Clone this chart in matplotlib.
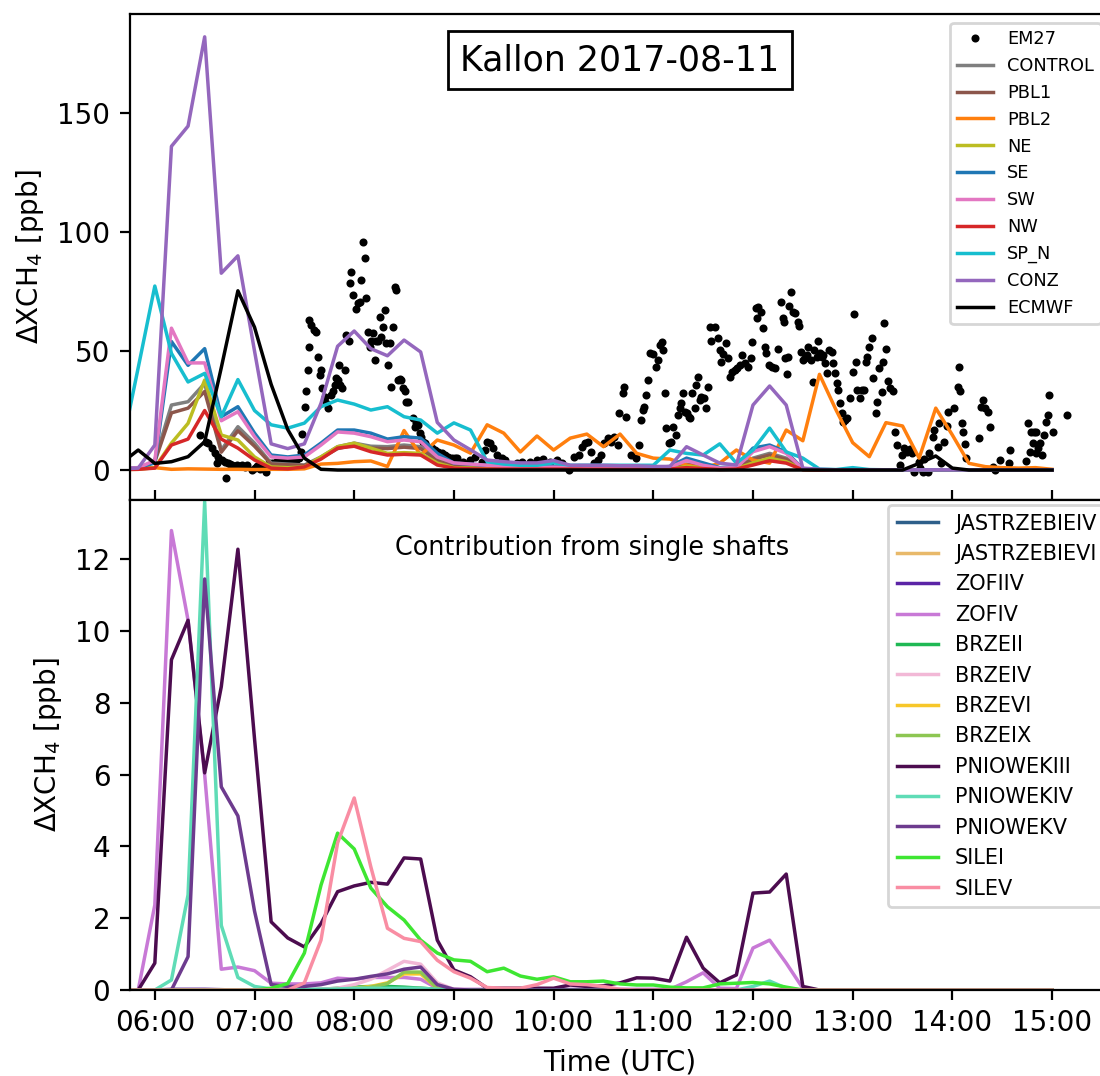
import numpy as np
import pandas as pd
import matplotlib.pyplot as plt
import matplotlib.dates as mdates

# model output every 10 min, 05:40 - 15:00 UTC
day = pd.Timestamp('2017-08-11')
model_time = pd.date_range('2017-08-11 05:40', '2017-08-11 15:00', freq='10min')

# EM27 observations (hour of day, ppb)
em27_hour = [
    6.45, 6.51, 6.53, 6.57, 6.60, 6.62, 6.63, 6.67, 6.70, 6.71, 6.73, 6.75, 6.77, 6.80, 6.82,
    6.85, 6.87, 6.90, 6.92, 6.97, 7.00, 7.02, 7.05, 7.07, 7.10, 7.12, 7.15, 7.18, 7.22, 7.25,
    7.28, 7.30, 7.35, 7.38, 7.40, 7.42, 7.45, 7.47, 7.48,
    7.51, 7.52, 7.54, 7.55, 7.55, 7.57, 7.60, 7.62, 7.64, 7.66, 7.67, 7.68, 7.71, 7.72, 7.74,
    7.77, 7.79, 7.81, 7.82, 7.84, 7.85, 7.86, 7.88, 7.91, 7.92, 7.95, 7.96, 7.97, 7.99, 8.02,
    8.04, 8.06, 8.07, 8.09, 8.11, 8.12, 8.14, 8.16, 8.17, 8.19, 8.21, 8.22, 8.24, 8.26, 8.27,
    8.29, 8.31, 8.32, 8.34, 8.36, 8.37, 8.39, 8.41, 8.42, 8.44, 8.46, 8.47, 8.49, 8.51, 8.52,
    8.54, 8.59, 8.61, 8.62, 8.64, 8.66, 8.67, 8.69, 8.71, 8.74, 8.78, 8.81, 8.84, 8.88, 8.91,
    8.94, 8.98, 9.01,
    9.03, 9.09, 9.16, 9.21, 9.28, 9.31, 9.33, 9.36, 9.39, 9.43, 9.48, 9.51, 9.63, 9.68, 9.76,
    9.83, 9.89, 9.96, 10.03, 10.08, 10.15, 10.20, 10.25, 10.28, 10.31, 10.35, 10.38, 10.41,
    10.45, 10.48, 10.51, 10.55, 10.58, 10.61, 10.65, 10.66, 10.70, 10.71, 10.73, 10.78, 10.83,
    10.86, 10.88, 10.90, 10.91, 10.93, 10.95, 10.97, 11.00, 11.03, 11.05, 11.07, 11.09, 11.10,
    11.12, 11.13, 11.16, 11.18, 11.20, 11.23, 11.25, 11.27, 11.28, 11.30, 11.32, 11.34, 11.36,
    11.37, 11.39, 11.42, 11.43, 11.45, 11.47, 11.48, 11.51, 11.53, 11.55, 11.57, 11.58, 11.62,
    11.65, 11.67, 11.68, 11.70, 11.73, 11.75, 11.77, 11.79, 11.82, 11.84, 11.87, 11.89, 11.92,
    11.95, 11.98, 11.99, 12.03, 12.04, 12.05, 12.08, 12.10, 12.12, 12.13, 12.16, 12.19, 12.22,
    12.25, 12.28, 12.30, 12.31, 12.32, 12.34, 12.35, 12.36, 12.38, 12.40, 12.42, 12.45, 12.46,
    12.48, 12.50, 12.52, 12.54, 12.55, 12.58, 12.60, 12.61, 12.64, 12.65, 12.67, 12.69, 12.70,
    12.72, 12.74, 12.76, 12.79, 12.80, 12.82, 12.84, 12.85, 12.87, 12.89, 12.90, 12.92, 12.94,
    12.97, 13.00, 13.01, 13.03, 13.04, 13.07, 13.09, 13.11, 13.13, 13.14, 13.16, 13.19, 13.20,
    13.23, 13.24, 13.26, 13.29, 13.30, 13.31, 13.33, 13.35, 13.37, 13.40,
    13.42, 13.44, 13.47, 13.49, 13.51, 13.54, 13.57, 13.59, 13.62, 13.67, 13.68, 13.71, 13.72,
    13.76, 13.77, 13.81, 13.82, 13.86, 13.87, 13.89, 13.92, 13.95, 13.96, 14.02, 14.06, 14.07,
    14.08, 14.10, 14.11, 14.13, 14.14, 14.27, 14.29, 14.31, 14.33, 14.36, 14.38, 14.41, 14.43,
    14.48, 14.57, 14.58, 14.74, 14.76, 14.78, 14.79, 14.81, 14.82, 14.84, 14.84, 14.86, 14.88,
    14.90, 14.92, 14.94, 14.96, 14.97, 15.01, 15.15,
]
em27_val = [
    14.7, 11.9, 11.3, 9.2, 7.1, 2.9, 5.5, 4.2, 3.4, -3.4, 2.9, 2.5, 2.1, 1.8, 2.1,
    1.5, 2.1, 1.2, 2.0, 0.0, 1.0, 1.5, 0.5, 1.0, 1.2, -0.7, 2.9, 3.0, 3.5, 3.2,
    3.5, 3.8, 3.9, 3.5, 4.5, 4.2, 5.0, 7.7, 15.1,
    26.6, 33, 42, 63, 51.8, 61, 58.8, 58, 47.6, 40, 42, 34.4, 30.8, 28, 26,
    31.5, 33, 35.7, 38.6, 37.8, 44, 35.7, 34.4, 42, 56.7, 54, 78.5, 83.3, 73.5, 67.6,
    70, 70.7, 79.8, 96, 89, 72.3, 58, 51.8, 54, 57.7, 46.2, 54.3, 54, 64.4, 56,
    60.2, 67.2, 53.5, 44, 53.2, 35, 60.2, 77, 75.6, 37.8, 38.1, 37.8, 34.3, 33, 28.7,
    28.7, 21.7, 18.2, 19.9, 18.9, 15.4, 14, 11.9, 11.2, 9.8, 9.1, 8.4, 7.7, 7, 6.3,
    5.6, 4.9, 4.9,
    4.9, 3.5, 4.2, 5.6, 3.5, 8.4, 11.9, 11.2, 9.1, 6.3, 4.9, 4.2, 2.8, 3.5, 3.5,
    4.2, 4.5, 3.5, 4.2, 2.8, 0.0, 5.6, 6.3, 9.8, 11.2, 11.9, 7.7, 2.8,
    4.2, 6.3, 11.2, 13.3, 11.9, 14, 10.5, 23.8, 32.2, 35, 22.4, 6.3, 4.9,
    10.5, 21, 25.2, 26.6, 31.5, 37.8, 49, 48.7, 43.4, 46.2, 52.5, 53.9, 50.4,
    32.2, 17.5, 11.2, 11.9, 18.2, 14.7, 23.1, 25.9, 28, 32.2, 24.5, 23.8, 22.4,
    21.7, 32.2, 25.9, 35.7, 39.2, 29.4, 30.8, 30.1, 25.9, 35, 60.2, 54.3, 60.2,
    55.3, 50.4, 45.5, 48.7, 53.2, 46.9, 39.2, 41.3, 42, 42.7, 44.1, 48.3, 44.8,
    43.4, 46.9, 53.9, 67.9, 63.7, 68.6, 66.5, 59.5, 51.8, 49, 44.1, 43.4, 42.7,
    50.7, 70.7, 63.7, 62.3, 46.9, 40.3, 47.6, 69, 74.9, 66.5, 66.1, 62.3, 60.5,
    49.7, 46.2, 46.9, 48.3, 51.8, 46.2, 37.1, 50.4, 47.6, 54.2, 49, 47.6, 48.3,
    44.8, 40.6, 50.4, 49.7, 44.8, 40.6, 36.4, 33.6, 28, 23.8, 20.3, 21, 21.7,
    30.1, 41.3, 65.5, 45.5, 33.6, 30.1, 33.6, 33.6, 45.5, 47.6, 51.8, 55.3, 38.5,
    23.8, 28.7, 42.7, 32.9, 45.5, 61.9, 50.7, 37.5, 34.3, 33.3,
    16.1, 10.5, 2.1, 6.3, 9.1, 7.7, 8.7, 7, -0.7, 3.5, 0.7, -0.7, 4.5,
    -0.7, 7, 14, 16.8, 9.8, 19.6, 2.8, 11.9, 18.5, 24.5, 25.9, 35, 43.1,
    33.3, 19.9, 16.1, 10.9, 4.9, 13.3, 26.6, 29.4, 25.9, 24.5, 18.2, 1.4, 0.0,
    4.2, 2.8, 8.4, 3.9, 19.9, 7.7, 16.1, 11.5, 16.1, 16.1, 7.3, 9.1, 11.5,
    6.3, 14.7, 20.3, 23.1, 31.5, 16.1, 23.1,
]

# WRF tracer runs (ppb)
control = [0.3, 0.5, 4, 27.3, 28.7, 36.4, 8.4, 18.2, 11.3, 2.9,
           2.5, 2.1, 5.5, 9.8, 11.3, 10, 9.8, 10.5, 9.8, 4.2,
           2, 1.5, 1.2, 1, 1, 1, 1, 1, 0.8, 0.8,
           0.8, 0.8, 0.8, 1, 2.5, 1.5, 0.5, 1, 5, 7,
           5, 0.3, 0, 0, 0, 0, 0, 0, 0, 0,
           0, 0, 0, 0, 0, 0, 0]
pbl1 = [0.3, 0.5, 3.5, 24, 26, 33, 7.5, 16.5, 10, 2.5,
        2.2, 1.9, 5, 9, 10.5, 9.2, 9, 9.6, 9, 3.8,
        1.8, 1.3, 1.1, 0.9, 0.9, 0.9, 0.9, 0.9, 0.7, 0.7,
        0.7, 0.7, 0.7, 0.9, 2.2, 1.3, 0.4, 0.9, 4.5, 6.3,
        4.5, 0.3, 0, 0, 0, 0, 0, 0, 0, 0,
        0, 0, 0, 0, 0, 0, 0]
pbl2 = [0.5, 0.8, 1, 0.3, 0.5, 0.4, 0.3, 0.3, 0.2, 0.3,
        0.3, 0.5, 2.5, 2.8, 3.5, 3.8, 1.5, 16.6, 6.3, 12.6,
        10.5, 7.1, 19, 15.5, 7.6, 14.3, 8.4, 13.4, 15.1, 9.8,
        15.1, 7, 5, 4.6, 2.1, 0.8, 2.9, 8.4, 4.2, 2.9,
        16.8, 12.3, 40.2, 25.2, 11.5, 5.6, 19.9, 18.5, 5, 26,
        14.7, 2.8, 1.4, 1, 0.8, 1, 0.3]
ne = [0.2, 0.3, 1, 11.3, 19.6, 37.8, 14.7, 12.6, 5.5, 1.3,
      1, 1.3, 5.5, 9.8, 11.3, 9.2, 7, 7.3, 7, 2.9,
      1, 0.8, 0.7, 0.6, 0.6, 0.6, 0.6, 0.6, 0.5, 0.5,
      0.5, 0.5, 0.5, 0.6, 1.5, 1, 0.3, 0.6, 3, 5,
      3.5, 0.2, 0, 0, 0, 0, 0, 0, 0, 0,
      0, 0, 0, 0, 0, 0, 0]
se = [0.5, 1, 3, 54, 44, 51, 22.4, 26.6, 15.5, 6.3,
      5.5, 6.3, 11.3, 16.8, 16.8, 15.5, 13, 14, 13.4, 7,
      2.9, 2.5, 2, 1.8, 1.5, 1.5, 1.5, 1.5, 1.2, 1.2,
      1.2, 1, 1, 1.5, 5, 3, 1, 1.5, 9.2, 10.5,
      7.6, 0.5, 0.1, 0, 0, 0, 0, 0, 0, 0,
      0, 0, 0, 0, 0, 0, 0]
sw = [0.5, 1, 4, 59.6, 45, 45, 20.7, 24.5, 14, 5.5,
      5, 5.5, 10.5, 16, 15.5, 14, 11.9, 12.6, 11.9, 5.5,
      3, 2.5, 2, 1.5, 1.2, 1.2, 1.2, 1.2, 1, 1,
      1, 1, 1, 1.2, 4, 2, 0.8, 1, 7.7, 9.8,
      7, 0.5, 0.1, 0, 0, 0, 0, 0, 0, 0,
      0, 0, 0, 0, 0, 0, 0]
nw = [0.2, 0.3, 0.8, 10.5, 13, 25, 13, 9.2, 4.2, 0.8,
      0.5, 1.3, 4.6, 9.2, 10, 7.7, 6.3, 6.6, 6.3, 2.1,
      0.8, 0.5, 0.4, 0.4, 0.4, 0.4, 0.4, 0.4, 0.3, 0.3,
      0.3, 0.3, 0.3, 0.4, 1, 0.6, 0.2, 0.4, 2.1, 3.9,
      2.9, 0.1, 0, 0, 0, 0, 0, 0, 0, 0,
      0, 0, 0, 0, 0, 0, 0]
sp_n = [9, 43, 77.3, 49, 37, 40.6, 22.4, 38, 25, 19,
        17.6, 19.7, 26.6, 29.4, 27.7, 25.2, 26.6, 22.4, 21, 15.5,
        19.8, 16.8, 3.5, 2.5, 2, 2, 3, 2, 2, 2,
        2, 2, 2, 8.4, 7, 6.3, 11, 2.9, 8.4, 17.6,
        7.6, 5, 0.4, 0.2, 1, 0.2, 0.1, 0.1, 0.1, 0.1,
        0.1, 0.1, 0.1, 0.1, 0.1, 0.1, 0.1]
conz = [0.5, 0.8, 10.5, 136, 144.5, 182, 82.7, 90, 50, 11,
        9, 11, 28, 52, 58.4, 51, 48, 54.6, 49.6, 20,
        12.6, 8.5, 4.2, 3.5, 3, 3, 4, 2, 2, 2,
        1.8, 1.8, 1.5, 1.5, 9.8, 6.3, 2.9, 2.1, 27.3, 35.3,
        27.3, 0.8, 0.3, 0.1, 0.1, 0.1, 0.1, 0.1, 0.1, 0.1,
        0.1, 0.1, 0.1, 0.1, 0.1, 0.1, 0.1]
ecmwf = [3, 8.4, 2.8, 3.5, 5.6, 11.9, 43, 75.3, 60, 36,
         17, 5, 0.3, 0, 0, 0, 0, 0, 0, 0,
         0, 0, 0, 0, 0, 0, 0, 0, 0, 0,
         0, 0, 0, 0, 0, 0, 0, 0, 0, 0,
         0, 0, 0, 0, 0, 0, 0, 0, 2.8, 5.9,
         0.8, 0, 0, 0, 0, 0, 0]

top_names = ['CONTROL', 'PBL1', 'PBL2', 'NE', 'SE', 'SW', 'NW', 'SP_N', 'CONZ', 'ECMWF']
top_series = [control, pbl1, pbl2, ne, se, sw, nw, sp_n, conz, ecmwf]
top_colors = ['tab:gray', 'tab:brown', 'tab:orange', 'tab:olive', 'tab:blue',
              'tab:pink', 'tab:red', 'tab:cyan', 'tab:purple', 'k']

# single shaft contributions (ppb)
jastrzebieiv = [0, 0, 0, 0, 0, 0, 0, 0, 0, 0,
                0, 0, 0, 0, 0.02, 0.03, 0.03, 0.03, 0.03, 0.01,
                0, 0, 0, 0, 0, 0, 0, 0, 0, 0,
                0, 0, 0, 0, 0, 0, 0, 0, 0, 0,
                0, 0, 0, 0, 0, 0, 0, 0, 0, 0,
                0, 0, 0, 0, 0, 0, 0]
jastrzebievi = [0, 0, 0, 0, 0, 0, 0, 0, 0, 0,
                0, 0, 0, 0, 0.02, 0.03, 0.04, 0.06, 0.05, 0.01,
                0, 0, 0, 0, 0, 0, 0, 0, 0, 0,
                0, 0, 0, 0, 0, 0, 0, 0, 0, 0,
                0, 0, 0, 0, 0, 0, 0, 0, 0, 0,
                0, 0, 0, 0, 0, 0, 0]
zofiiv = [0, 0, 0, 0.02, 0.02, 0.02, 0.01, 0, 0, 0,
          0, 0, 0, 0, 0.01, 0.01, 0.01, 0.01, 0.01, 0,
          0, 0, 0, 0, 0, 0, 0, 0, 0, 0,
          0, 0, 0, 0, 0, 0, 0, 0, 0, 0,
          0, 0, 0, 0, 0, 0, 0, 0, 0, 0,
          0, 0, 0, 0, 0, 0, 0]
zofiv = [0, 0, 2.37, 12.8, 10.3, 6.0, 0.58, 0.64, 0.54, 0.19,
         0.17, 0.17, 0.2, 0.33, 0.3, 0.35, 0.35, 0.35, 0.3, 0.05,
         0.02, 0.02, 0.02, 0.02, 0.02, 0.02, 0.02, 0.02, 0.02, 0.02,
         0.02, 0.02, 0.02, 0.02, 0.23, 0.48, 0.05, 0.04, 1.17, 1.39,
         0.75, 0.05, 0, 0, 0, 0, 0, 0, 0, 0,
         0, 0, 0, 0, 0, 0, 0]
brzeii = [0, 0, 0, 0, 0, 0, 0, 0, 0, 0,
          0, 0, 0.02, 0.05, 0.08, 0.1, 0.1, 0.08, 0.05, 0.02,
          0, 0, 0, 0, 0, 0, 0, 0, 0, 0,
          0, 0, 0, 0, 0, 0, 0, 0, 0, 0,
          0, 0, 0, 0, 0, 0, 0, 0, 0, 0,
          0, 0, 0, 0, 0, 0, 0]
brzeiv = [0, 0, 0, 0, 0, 0, 0, 0, 0, 0,
          0, 0, 0.02, 0.05, 0.15, 0.3, 0.55, 0.8, 0.72, 0.2,
          0.02, 0, 0, 0, 0, 0, 0, 0, 0, 0,
          0, 0, 0, 0, 0, 0, 0, 0, 0, 0,
          0, 0, 0, 0, 0, 0, 0, 0, 0, 0,
          0, 0, 0, 0, 0, 0, 0]
brzevi = [0, 0, 0, 0, 0, 0, 0, 0, 0, 0,
          0, 0, 0, 0.02, 0.05, 0.1, 0.2, 0.45, 0.45, 0.05,
          0, 0, 0, 0, 0, 0, 0, 0, 0, 0,
          0, 0, 0, 0, 0, 0, 0, 0, 0, 0,
          0, 0, 0, 0, 0, 0, 0, 0, 0, 0,
          0, 0, 0, 0, 0, 0, 0]
brzeix = [0, 0, 0, 0, 0, 0, 0, 0, 0, 0,
          0, 0, 0, 0, 0.03, 0.08, 0.18, 0.5, 0.5, 0.05,
          0, 0, 0, 0, 0, 0, 0, 0, 0, 0,
          0, 0, 0, 0, 0, 0, 0, 0, 0, 0,
          0, 0, 0, 0, 0, 0, 0, 0, 0, 0,
          0, 0, 0, 0, 0, 0, 0]
pniowekiii = [0, 0, 0.75, 9.2, 10.3, 6.05, 8.45, 12.28, 7.0, 1.9,
              1.45, 1.2, 1.85, 2.74, 2.9, 3.0, 2.95, 3.68, 3.65, 1.39,
              0.56, 0.37, 0.05, 0.05, 0.05, 0.05, 0.05, 0.14, 0.1, 0.12,
              0.2, 0.34, 0.33, 0.25, 1.47, 0.61, 0.2, 0.42, 2.7, 2.73,
              3.23, 0.1, 0, 0, 0, 0, 0, 0, 0, 0,
              0, 0, 0, 0, 0, 0, 0]
pniowekiv = [0, 0, 0, 0.28, 2.65, 13.6, 1.8, 0.35, 0.1, 0.03,
             0.02, 0.02, 0.02, 0.03, 0.05, 0.05, 0.05, 0.05, 0.05, 0.02,
             0, 0, 0, 0, 0, 0, 0, 0, 0, 0,
             0, 0, 0, 0, 0, 0, 0, 0, 0.1, 0.25,
             0.05, 0, 0, 0, 0, 0, 0, 0, 0, 0,
             0, 0, 0, 0, 0, 0, 0]
pniowekv = [0, 0, 0, 0, 0.93, 11.45, 5.66, 4.85, 2.2, 0.15,
            0.1, 0.1, 0.15, 0.25, 0.3, 0.38, 0.45, 0.58, 0.64, 0.15,
            0.02, 0, 0, 0, 0, 0, 0, 0, 0, 0,
            0, 0, 0, 0, 0, 0, 0, 0, 0, 0,
            0, 0, 0, 0, 0, 0, 0, 0, 0, 0,
            0, 0, 0, 0, 0, 0, 0]
silei = [0, 0, 0, 0, 0, 0, 0, 0, 0, 0.05,
         0.18, 1.03, 2.92, 4.37, 3.93, 2.84, 2.32, 1.95, 1.39, 1.03,
         0.84, 0.8, 0.51, 0.61, 0.39, 0.3, 0.37, 0.23, 0.23, 0.25,
         0.17, 0.14, 0.14, 0.08, 0.06, 0.06, 0.17, 0.19, 0.21, 0.17,
         0.08, 0, 0, 0, 0, 0, 0, 0, 0, 0,
         0, 0, 0, 0, 0, 0, 0]
silev = [0, 0, 0, 0, 0, 0, 0, 0, 0, 0,
         0, 0.2, 1.39, 4.1, 5.35, 3.43, 1.72, 1.44, 1.35, 0.83,
         0.51, 0.33, 0.07, 0.05, 0.05, 0.15, 0.33, 0.17, 0.15, 0.1,
         0.02, 0, 0, 0, 0, 0, 0, 0, 0, 0,
         0, 0, 0, 0, 0, 0, 0, 0, 0, 0,
         0, 0, 0, 0, 0, 0, 0]

shaft_names = ['JASTRZEBIEIV', 'JASTRZEBIEVI', 'ZOFIIV', 'ZOFIV', 'BRZEII', 'BRZEIV',
               'BRZEVI', 'BRZEIX', 'PNIOWEKIII', 'PNIOWEKIV', 'PNIOWEKV', 'SILEI', 'SILEV']
shaft_series = [jastrzebieiv, jastrzebievi, zofiiv, zofiv, brzeii, brzeiv,
                brzevi, brzeix, pniowekiii, pniowekiv, pniowekv, silei, silev]
shaft_colors = ['#2e5f8a', '#e8b96a', '#5b24a6', '#c879d6', '#1fb854', '#f2b8d6',
                '#f7c72a', '#8dc652', '#4c0c4f', '#5fdcb6', '#6d3b8e', '#3ee632', '#f98da3']

em27_time = day + pd.to_timedelta(em27_hour, unit='h')

fig = plt.figure(figsize=(5.5, 5.38), dpi=200)
ax1 = fig.add_axes([0.118, 0.5353, 0.891, 0.4517])
ax2 = fig.add_axes([0.118, 0.0799, 0.891, 0.4554], sharex=ax1)

# top: total enhancement
ax1.plot(em27_time, em27_val, '.', color='k', ms=3.8, label='EM27')
for name, vals, col in zip(top_names, top_series, top_colors):
    ax1.plot(model_time, vals, color=col, lw=1.25, label=name)
ax1.set_ylim(-12.6, 191.6)
ax1.set_ylabel(r'$\Delta$XCH$_4$ [ppb]', fontsize=10)
ax1.tick_params(labelsize=10, labelbottom=False)
ax1.legend(loc='upper right', fontsize=6.4)
ax1.text(0.5, 0.905, 'Kallon 2017-08-11', transform=ax1.transAxes, ha='center', va='center',
         fontsize=12.5, bbox=dict(boxstyle='square,pad=0.35', facecolor='white', edgecolor='k', lw=1.0))

# bottom: single shafts
for name, vals, col in zip(shaft_names, shaft_series, shaft_colors):
    ax2.plot(model_time, vals, color=col, lw=1.25, label=name)
ax2.set_ylim(0, 13.65)
ax2.set_ylabel(r'$\Delta$XCH$_4$ [ppb]', fontsize=10)
ax2.set_xlabel('Time (UTC)', fontsize=10)
ax2.tick_params(labelsize=10)
ax2.tick_params(axis='x', top=True)
ax2.legend(loc='upper right', fontsize=7.5, borderaxespad=0.25)
ax2.text(0.472, 0.902, 'Contribution from single shafts', transform=ax2.transAxes,
         ha='center', va='center', fontsize=9.2)

ax2.set_xlim(day + pd.Timedelta(hours=5.749), day + pd.Timedelta(hours=15.58))
ax2.xaxis.set_major_locator(mdates.HourLocator())
ax2.xaxis.set_major_formatter(mdates.DateFormatter('%H:%M'))

fig.savefig('out.png', dpi=200)
